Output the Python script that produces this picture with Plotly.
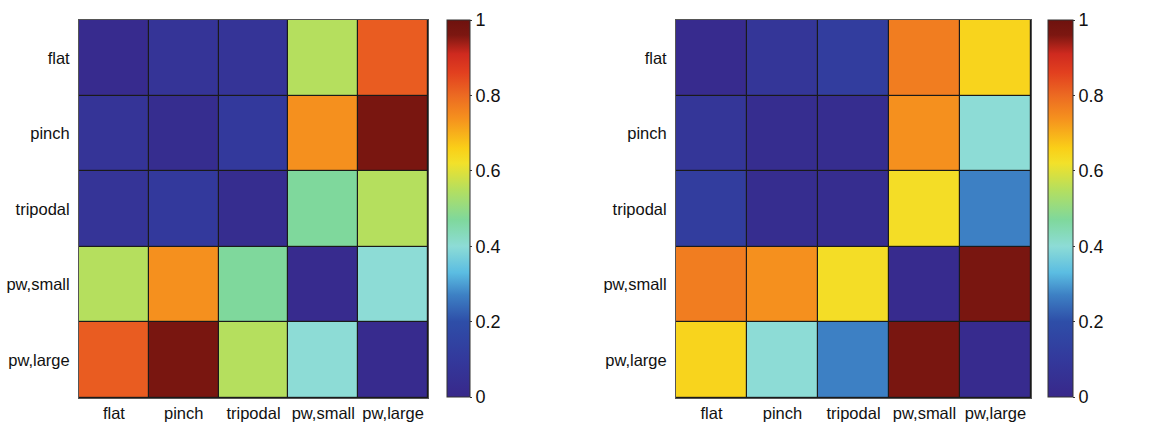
import plotly.graph_objects as go

labels = ["flat", "pinch", "tripodal", "pw,small", "pw,large"]

left_values = [
    [0.02, 0.07, 0.07, 0.55, 0.82],
    [0.07, 0.03, 0.10, 0.74, 0.97],
    [0.07, 0.10, 0.03, 0.47, 0.55],
    [0.55, 0.74, 0.47, 0.02, 0.40],
    [0.82, 0.97, 0.55, 0.40, 0.02],
]

right_values = [
    [0.02, 0.08, 0.12, 0.77, 0.65],
    [0.08, 0.03, 0.03, 0.74, 0.40],
    [0.12, 0.03, 0.03, 0.63, 0.27],
    [0.77, 0.74, 0.63, 0.02, 0.97],
    [0.65, 0.40, 0.27, 0.97, 0.02],
]

cbar_ticks = [0, 0.2, 0.4, 0.6, 0.8, 1]
cbar_ticktext = ["0", "0.2", "0.4", "0.6", "0.8", "1"]

colorscale = [
    [0.00, "#38288a"],
    [0.10, "#33399c"],
    [0.20, "#2e4ea8"],
    [0.27, "#3d80c4"],
    [0.33, "#5bbde2"],
    [0.40, "#8ddcd6"],
    [0.47, "#7fd89c"],
    [0.55, "#b5df5e"],
    [0.62, "#f2e12a"],
    [0.66, "#facf18"],
    [0.74, "#f5901e"],
    [0.80, "#ec6a22"],
    [0.86, "#e2401f"],
    [0.91, "#cf2a1f"],
    [0.96, "#7c1711"],
    [1.00, "#6e120e"],
]

W, H = 1151, 425
font = dict(family="Liberation Sans, Arial, sans-serif", color="#111")

def px_x(v):
    return v / W

def px_y(v):
    return 1 - v / H

fig = go.Figure()

def add_map(vals, xa, ya, cb_left, cb_w):
    fig.add_trace(go.Heatmap(
        z=vals, x=labels, y=labels, xaxis=xa, yaxis=ya,
        zmin=0, zmax=1, colorscale=colorscale, xgap=1.2, ygap=1.2,
        hoverinfo="skip",
        colorbar=dict(
            x=px_x(cb_left), xanchor="left", xpad=0, ypad=0,
            y=(px_y(20) + px_y(397)) / 2, yanchor="middle",
            len=(397 - 20) / H, lenmode="fraction",
            thickness=cb_w, thicknessmode="pixels",
            tickvals=cbar_ticks, ticktext=cbar_ticktext,
            ticks="outside", ticklen=2, tickcolor="#333",
            outlinewidth=1, outlinecolor="#333",
            tickfont=dict(size=18, **font),
        ),
    ))

add_map(left_values, "x", "y", 447, 23)
add_map(right_values, "x2", "y2", 1048, 25)

axis_common = dict(showgrid=False, zeroline=False, ticks="", showline=True,
                   linecolor="#555", linewidth=1, mirror=True,
                   tickfont=dict(size=16.5, **font))

fig.update_layout(
    width=W, height=H, margin=dict(l=0, r=0, t=0, b=0),
    paper_bgcolor="white", plot_bgcolor="#1a1a1a",
    xaxis=dict(domain=[px_x(79), px_x(428)], anchor="y", **axis_common),
    yaxis=dict(domain=[px_y(398), px_y(20)], anchor="x", autorange="reversed", ticklabelstandoff=5, **axis_common),
    xaxis2=dict(domain=[px_x(676), px_x(1031)], anchor="y2", **axis_common),
    yaxis2=dict(domain=[px_y(398), px_y(20)], anchor="x2", autorange="reversed", ticklabelstandoff=5, **axis_common),
    showlegend=False,
)

fig.write_html("out.html")
